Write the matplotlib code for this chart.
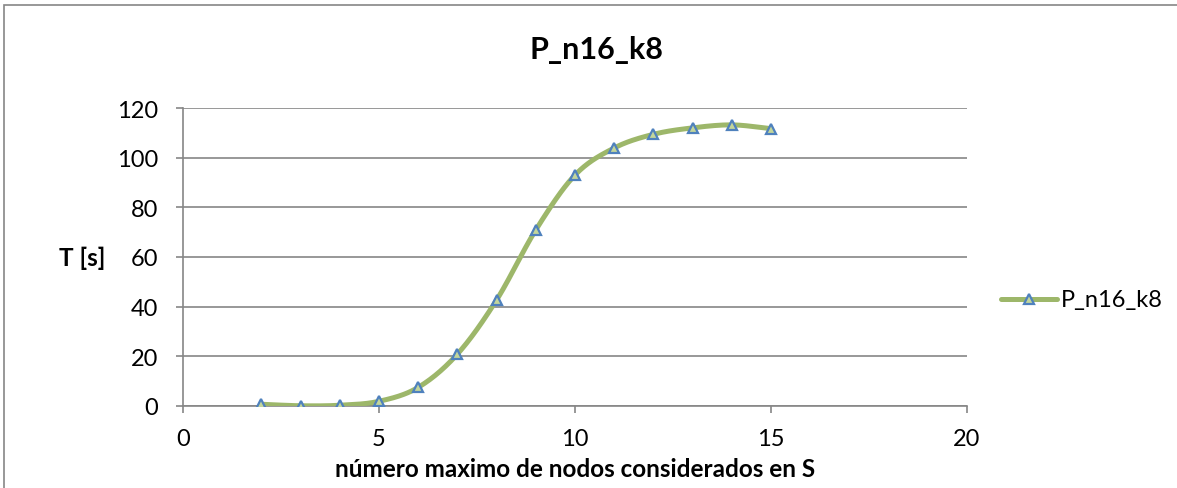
import numpy as np
import matplotlib
matplotlib.use('Agg')
import matplotlib.pyplot as plt
from matplotlib.patches import Rectangle

plt.rcParams['font.family'] = ['Lato', 'DejaVu Sans']

# datos
nodos = [2, 3, 4, 5, 6, 7, 8, 9, 10, 11, 12, 13, 14, 15]
tiempo = [0.7, 0.1, 0.3, 1.9, 7.5, 20.9, 42.7, 70.9, 93.0, 103.9, 109.4, 112.0, 113.2, 111.7]
serie = 'P_n16_k8'
x_ticks = [0, 5, 10, 15, 20]
y_ticks = [0, 20, 40, 60, 80, 100, 120]


def suavizar(x, y, n=30):
    # curva suave tipo Catmull-Rom entre los puntos
    x = np.asarray(x, float)
    y = np.asarray(y, float)
    px = np.concatenate([[2 * x[0] - x[1]], x, [2 * x[-1] - x[-2]]])
    py = np.concatenate([[2 * y[0] - y[1]], y, [2 * y[-1] - y[-2]]])
    xs, ys = [], []
    t = np.linspace(0, 1, n, endpoint=False)
    for i in range(1, len(px) - 2):
        for p, out in ((px, xs), (py, ys)):
            p0, p1, p2, p3 = p[i - 1], p[i], p[i + 1], p[i + 2]
            out.extend(0.5 * ((2 * p1) + (-p0 + p2) * t
                              + (2 * p0 - 5 * p1 + 4 * p2 - p3) * t ** 2
                              + (-p0 + 3 * p1 - 3 * p2 + p3) * t ** 3))
    xs.append(x[-1])
    ys.append(y[-1])
    return np.array(xs), np.array(ys)


W, H = 1177, 489
fig = plt.figure(figsize=(W / 100, H / 100), dpi=100)
fig.patches.append(Rectangle((4 / W, -0.1), 1.2, 1 - 5.5 / H + 0.1, transform=fig.transFigure,
                             fill=False, edgecolor='#868686', lw=1.2))

ax = fig.add_axes([183 / W, 1 - 407 / H, (967 - 183) / W, (407 - 109) / H])

verde = '#9DB76A'
relleno = '#C3D69B'
azul = '#4F81BD'

sx, sy = suavizar(nodos, tiempo)
ax.plot(sx, sy, color=verde, lw=3.6, solid_capstyle='round', zorder=3)
ax.plot(nodos, tiempo, linestyle='none', marker='^', markersize=7.5,
        markerfacecolor=relleno, markeredgecolor=azul, markeredgewidth=1.6, zorder=4)

ax.set_xlim(0, 20)
ax.set_ylim(0, 120)
ax.set_xticks(x_ticks)
ax.set_yticks(y_ticks)
ax.yaxis.grid(True, color='#868686', lw=1.2)
ax.set_axisbelow(True)
for s in ['top', 'right']:
    ax.spines[s].set_visible(False)
for s in ['left', 'bottom']:
    ax.spines[s].set_color('#868686')
    ax.spines[s].set_linewidth(1.2)
ax.tick_params(axis='both', colors='#868686', length=5, width=1.2, labelsize=17,
               labelcolor='black')
ax.tick_params(axis='y', pad=13)
ax.tick_params(axis='x', pad=11)

# titulo centrado sobre el area del grafico
fig.text(596 / W, 1 - 50 / H, 'P_n16_k8', fontsize=22, fontweight='bold',
         ha='center', va='center')
ax.set_xlabel('número maximo de nodos considerados en S', fontsize=17.5, fontweight='bold')
ax.xaxis.set_label_coords(0.5, (407 - 470) / 298)
ax.xaxis.label.set_va('center')
ax.set_ylabel('T [s]', fontsize=17.5, fontweight='bold', rotation=0, va='center', ha='center')
ax.yaxis.set_label_coords((82 - 183) / 784, (407 - 258) / 298)

# leyenda a la derecha
fig.lines.append(plt.Line2D([1001 / W, 1057 / W], [1 - 300 / H] * 2, transform=fig.transFigure,
                            color=verde, lw=3.6, solid_capstyle='round'))
fig.lines.append(plt.Line2D([1029 / W], [1 - 300 / H], transform=fig.transFigure, marker='^',
                            markersize=7.5, markerfacecolor=relleno, markeredgecolor=azul,
                            markeredgewidth=1.6))
fig.text(1061 / W, 1 - 300 / H, serie, fontsize=17, va='center', ha='left')

fig.savefig('out.png', dpi=100)
